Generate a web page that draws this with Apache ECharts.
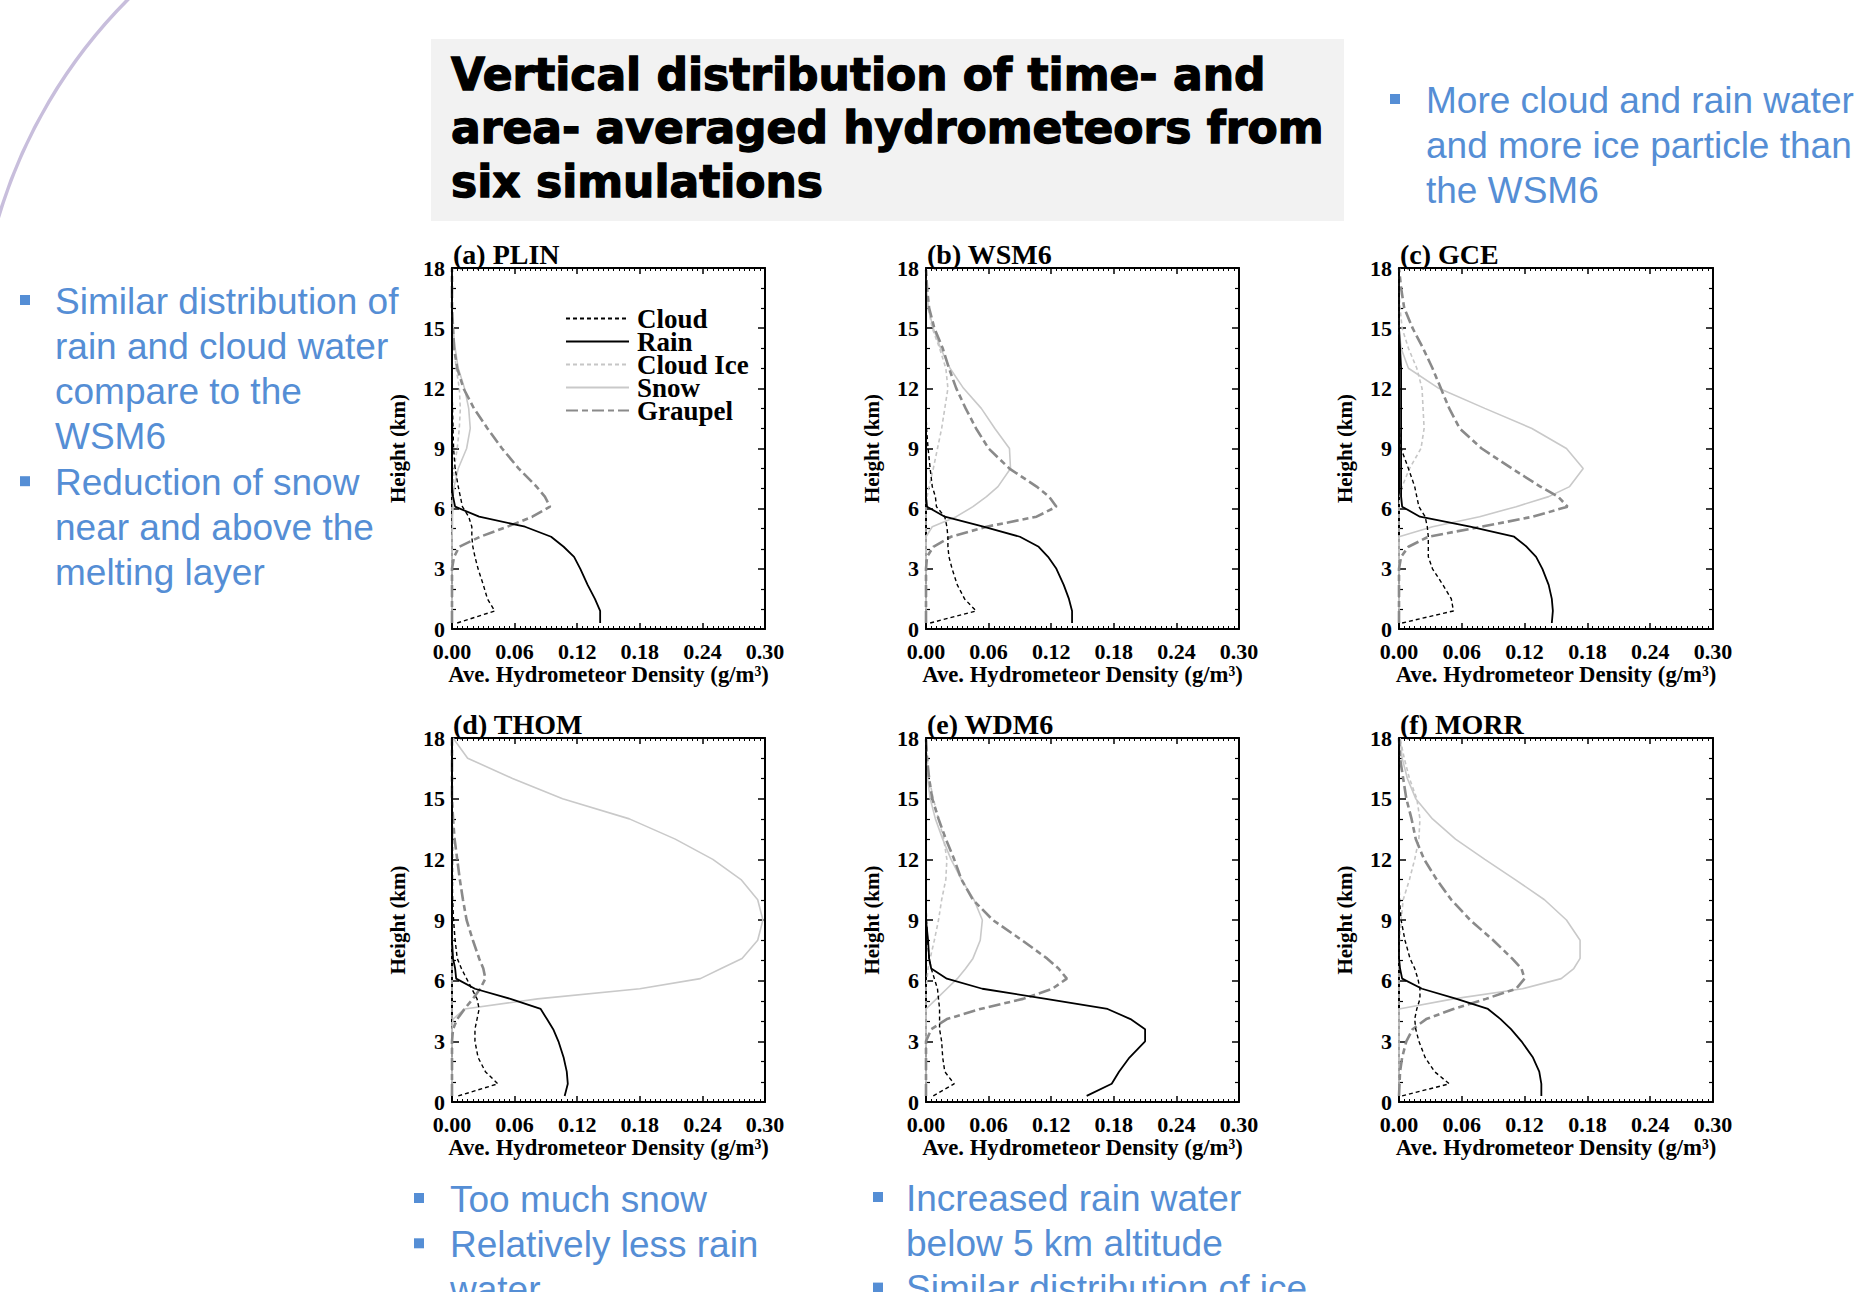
<!DOCTYPE html>
<html><head><meta charset="utf-8">
<script src="https://cdn.jsdelivr.net/npm/echarts@6/dist/echarts.min.js"></script>
<style>html,body{margin:0;padding:0;background:#fff;}#chart{width:1862px;height:1292px;}</style>
</head><body><div id="chart"></div>
<script>
// ---------------- DATA ----------------
const HEIGHTS = [0.3, 0.9, 1.5, 2.2, 3.0, 3.6, 4.1, 4.6, 5.1, 5.6, 6.1, 6.6, 7.1, 8.0, 9.0, 10.0, 11.0, 12.0, 13.0, 14.0, 15.0, 16.0, 17.0, 18.0];
const SPECIES = ['Cloud', 'Rain', 'Cloud Ice', 'Snow', 'Graupel'];
const PANEL_TITLES = ['(a) PLIN', '(b) WSM6', '(c) GCE', '(d) THOM', '(e) WDM6', '(f) MORR'];
const X_TICKS = [0, 0.06, 0.12, 0.18, 0.24, 0.30];
const Y_TICKS = [0, 3, 6, 9, 12, 15, 18];

const PLIN_CLOUD   = [0.005,0.041,0.034,0.030,0.025,0.022,0.020,0.019,0.019,0.016,0.010,0.008,0.006,0.003,0.0015,0.001,0.0005,0,0,0,0,0,0,0];
const PLIN_RAIN    = [0.142,0.142,0.137,0.130,0.123,0.117,0.107,0.095,0.070,0.026,0.003,0.001,0,0,0,0,0,0,0,0,0,0,0,0];
const PLIN_ICE     = [0,0,0,0,0,0,0,0,0,0,0,0,0.001,0.002,0.005,0.007,0.008,0.007,0.004,0.002,0.001,0,0,0];
const PLIN_SNOW    = [0,0,0,0,0,0,0,0,0.0005,0.0005,0.001,0.001,0.002,0.006,0.014,0.0175,0.016,0.012,0.006,0.003,0.001,0,0,0];
const PLIN_GRAUPEL = [0,0,0,0,0,0.002,0.007,0.027,0.053,0.077,0.094,0.089,0.081,0.064,0.048,0.034,0.021,0.011,0.005,0.002,0.001,0,0,0];

const WSM6_CLOUD   = [0.004,0.048,0.037,0.030,0.025,0.022,0.021,0.021,0.020,0.018,0.010,0.009,0.006,0.004,0.002,0.0005,0,0,0,0,0,0,0,0];
const WSM6_RAIN    = [0.140,0.140,0.137,0.132,0.125,0.117,0.108,0.090,0.055,0.018,0.001,0,0,0,0,0,0,0,0,0,0,0,0,0];
const WSM6_ICE     = [0,0,0,0,0,0,0,0,0,0,0,0.001,0.003,0.007,0.011,0.015,0.018,0.021,0.019,0.013,0.006,0.002,0.0005,0];
const WSM6_SNOW    = [0,0,0,0,0,0,0,0,0.006,0.029,0.045,0.058,0.069,0.081,0.080,0.066,0.053,0.036,0.023,0.014,0.007,0.002,0.0005,0];
const WSM6_GRAUPEL = [0,0,0,0,0,0.001,0.007,0.024,0.058,0.106,0.125,0.118,0.106,0.080,0.060,0.048,0.038,0.029,0.022,0.016,0.008,0.003,0.001,0];

const GCE_CLOUD    = [0.003,0.052,0.050,0.042,0.032,0.028,0.028,0.028,0.027,0.025,0.019,0.017,0.015,0.009,0.002,0,0,0,0,0,0,0,0,0];
const GCE_RAIN     = [0.146,0.147,0.146,0.143,0.137,0.131,0.122,0.110,0.068,0.020,0.003,0.002,0.002,0.002,0.002,0.002,0.002,0.002,0.002,0.001,0,0,0,0];
const GCE_ICE      = [0,0,0,0,0,0,0,0,0,0,0,0.001,0.003,0.010,0.021,0.024,0.023,0.022,0.017,0.009,0.003,0.001,0,0];
const GCE_SNOW     = [0,0,0,0,0,0,0,0,0.032,0.077,0.112,0.143,0.163,0.176,0.160,0.127,0.082,0.038,0.009,0.002,0,0,0,0];
const GCE_GRAUPEL  = [0,0,0,0,0,0.002,0.009,0.028,0.079,0.128,0.161,0.152,0.135,0.108,0.079,0.058,0.048,0.040,0.032,0.023,0.013,0.005,0.002,0];

const THOM_CLOUD   = [0.006,0.044,0.032,0.025,0.022,0.022,0.024,0.026,0.024,0.019,0.014,0.009,0.005,0.003,0.0015,0.0005,0,0,0,0,0,0,0,0];
const THOM_RAIN    = [0.108,0.111,0.110,0.107,0.102,0.097,0.091,0.085,0.056,0.022,0.004,0.003,0.001,0,0,0,0,0,0,0,0,0,0,0];
const THOM_ICE     = [0,0,0,0,0,0,0,0,0,0,0,0,0,0.0005,0.001,0.001,0.001,0.001,0.001,0.0005,0,0,0,0];
const THOM_SNOW    = [0,0,0,0,0,0,0.001,0.012,0.082,0.180,0.238,0.258,0.278,0.293,0.298,0.293,0.277,0.250,0.214,0.170,0.106,0.058,0.015,0.001];
const THOM_GRAUPEL = [0,0,0,0,0,0.001,0.005,0.012,0.020,0.027,0.032,0.030,0.026,0.020,0.014,0.0105,0.0075,0.005,0.0025,0.001,0,0,0,0];

const WDM6_CLOUD   = [0.007,0.027,0.018,0.016,0.015,0.013,0.013,0.013,0.012,0.011,0.008,0.005,0.003,0.0015,0.0005,0,0,0,0,0,0,0,0,0];
const WDM6_RAIN    = [0.154,0.178,0.185,0.195,0.210,0.210,0.196,0.174,0.115,0.054,0.020,0.005,0.003,0.002,0,0,0,0,0,0,0,0,0,0];
const WDM6_ICE     = [0,0,0,0,0,0,0,0,0,0,0.001,0.002,0.004,0.008,0.012,0.015,0.019,0.020,0.017,0.012,0.007,0.003,0.001,0];
const WDM6_SNOW    = [0,0,0,0,0,0,0,0,0.010,0.020,0.030,0.038,0.045,0.052,0.054,0.046,0.034,0.024,0.016,0.009,0.004,0.0015,0.0005,0];
const WDM6_GRAUPEL = [0,0,0,0,0,0.005,0.020,0.052,0.093,0.121,0.135,0.127,0.116,0.092,0.064,0.045,0.034,0.027,0.019,0.012,0.006,0.003,0.001,0];

const MORR_CLOUD   = [0.003,0.048,0.034,0.025,0.019,0.016,0.015,0.017,0.020,0.020,0.018,0.015,0.0105,0.0057,0.002,0.0005,0,0,0,0,0,0,0,0];
const MORR_RAIN    = [0.136,0.136,0.134,0.128,0.117,0.107,0.097,0.085,0.055,0.022,0.003,0.001,0,0,0,0,0,0,0,0,0,0,0,0];
const MORR_ICE     = [0,0,0,0,0,0,0,0,0,0,0,0,0,0.0005,0.002,0.004,0.010,0.015,0.019,0.020,0.017,0.010,0.005,0.001];
const MORR_SNOW    = [0,0,0,0,0,0,0,0,0.052,0.118,0.155,0.167,0.173,0.173,0.160,0.139,0.111,0.082,0.054,0.032,0.016,0.008,0.003,0.001];
const MORR_GRAUPEL = [0,0.0005,0.001,0.003,0.007,0.013,0.026,0.052,0.083,0.112,0.120,0.117,0.108,0.090,0.068,0.050,0.036,0.024,0.016,0.012,0.007,0.004,0.001,0];

const PANELS = [
  [PLIN_CLOUD, PLIN_RAIN, PLIN_ICE, PLIN_SNOW, PLIN_GRAUPEL],
  [WSM6_CLOUD, WSM6_RAIN, WSM6_ICE, WSM6_SNOW, WSM6_GRAUPEL],
  [GCE_CLOUD, GCE_RAIN, GCE_ICE, GCE_SNOW, GCE_GRAUPEL],
  [THOM_CLOUD, THOM_RAIN, THOM_ICE, THOM_SNOW, THOM_GRAUPEL],
  [WDM6_CLOUD, WDM6_RAIN, WDM6_ICE, WDM6_SNOW, WDM6_GRAUPEL],
  [MORR_CLOUD, MORR_RAIN, MORR_ICE, MORR_SNOW, MORR_GRAUPEL]
];

const SLIDE_TITLE = ['Vertical distribution of time- and', 'area- averaged hydrometeors from', 'six simulations'];
const NOTE_LEFT = [['Similar distribution of', 'rain and cloud water', 'compare to the', 'WSM6'], ['Reduction of snow', 'near and above the', 'melting layer']];
const NOTE_RIGHT = [['More cloud and rain water', 'and more ice particle than', 'the WSM6']];
const NOTE_BOTTOM1 = [['Too much snow'], ['Relatively less rain', 'water']];
const NOTE_BOTTOM2 = [['Increased rain water', 'below 5 km altitude'], ['Similar distribution of ice']];

// ---------------- LAYOUT / STYLE ----------------
const GRIDS = [
  {left: 452, top: 268, width: 313, height: 361},
  {left: 926, top: 268, width: 313, height: 361},
  {left: 1399, top: 268, width: 314, height: 361},
  {left: 452, top: 738, width: 313, height: 364},
  {left: 926, top: 738, width: 313, height: 364},
  {left: 1399, top: 738, width: 314, height: 364}
];
const SERIF = "'Liberation Serif', 'Times New Roman', serif";
const SANS = "'Liberation Sans', Arial, sans-serif";
const BLUE = '#558ED5';
const LINE_STYLES = {
  'Cloud':     {color: '#000000', width: 1.4, type: [4, 3]},
  'Rain':      {color: '#000000', width: 1.8, type: 'solid'},
  'Cloud Ice': {color: '#c6c6c6', width: 1.6, type: [4, 3]},
  'Snow':      {color: '#c9c9c9', width: 1.6, type: 'solid'},
  'Graupel':   {color: '#8a8a8a', width: 2.6, type: [12, 4, 6, 4]}
};
const DRAW_ORDER = ['Snow', 'Cloud Ice', 'Graupel', 'Cloud', 'Rain'];

const axisLine = {show: true, onZero: false, lineStyle: {color: '#000', width: 2}};
const tickLbl = {color: '#000', fontFamily: SERIF, fontWeight: 'bold', fontSize: 22};

const xAxes = [], yAxes = [], series = [], titles = [];
GRIDS.forEach((g, i) => {
  const xBase = {gridIndex: i, type: 'value', min: 0, max: 0.3, interval: 0.06,
    axisLine, splitLine: {show: false},
    axisTick: {show: true, inside: true, length: 6, lineStyle: {color: '#000', width: 1.5}},
    minorTick: {show: true, splitNumber: 12, length: 3, lineStyle: {color: '#000', width: 1}}};
  xAxes.push(Object.assign({}, xBase, {position: 'bottom',
    axisLabel: Object.assign({margin: 11, formatter: v => Number(v).toFixed(2)}, tickLbl),
    name: 'Ave. Hydrometeor Density (g/m³)', nameLocation: 'middle', nameGap: 31,
    nameTextStyle: {color: '#000', fontFamily: SERIF, fontWeight: 'bold', fontSize: 22.7}}));
  xAxes.push(Object.assign({}, xBase, {position: 'top', axisLabel: {show: false}}));
  const yBase = {gridIndex: i, type: 'value', min: 0, max: 18, interval: 3,
    axisLine, splitLine: {show: false},
    axisTick: {show: true, inside: true, length: 7, lineStyle: {color: '#000', width: 1.5}},
    minorTick: {show: true, splitNumber: 3, length: 4, lineStyle: {color: '#000', width: 1.2}}};
  yAxes.push(Object.assign({}, yBase, {position: 'left',
    axisLabel: Object.assign({margin: 7}, tickLbl),
    name: 'Height (km)', nameLocation: 'middle', nameRotate: 90, nameGap: 44,
    nameTextStyle: {color: '#000', fontFamily: SERIF, fontWeight: 'bold', fontSize: 21}}));
  yAxes.push(Object.assign({}, yBase, {position: 'right', axisLabel: {show: false}}));

  titles.push({text: PANEL_TITLES[i], left: g.left + 1, top: g.top - 28, padding: 0,
    textStyle: {color: '#000', fontFamily: SERIF, fontWeight: 'bold', fontSize: 28}});

  DRAW_ORDER.forEach(name => {
    const k = SPECIES.indexOf(name);
    const vals = PANELS[i][k];
    const st = LINE_STYLES[name];
    series.push({
      name, type: 'line', xAxisIndex: i * 2, yAxisIndex: i * 2,
      data: HEIGHTS.map((h, j) => [vals[j], h]),
      symbol: 'none', showSymbol: false, smooth: false, animation: false,
      lineStyle: {color: st.color, width: st.width, type: st.type},
      itemStyle: {color: st.color},
      z: 2
    });
  });
});

// ---------------- SLIDE DECORATION (graphic) ----------------
const graphic = [];
graphic.push({type: 'arc', shape: {cx: 495, cy: 365, r: 518, startAngle: Math.PI * 0.98, endAngle: Math.PI * 1.36, clockwise: true},
  style: {stroke: '#C8BEDC', lineWidth: 3.5, fill: null}, silent: true, z: 0});
graphic.push({type: 'rect', shape: {x: 431, y: 39, width: 913, height: 182}, style: {fill: '#F2F2F2'}, silent: true, z: 0});
const TITLE_BASELINES = [90, 143, 196.5];
SLIDE_TITLE.forEach((t, i) => graphic.push({type: 'text', x: 451, y: TITLE_BASELINES[i] - 15.5, z: 1,
  style: {text: t, fill: '#000', stroke: '#000', lineWidth: 1.3, fontFamily: "'DejaVu Sans', sans-serif", fontWeight: 'bold', fontSize: 44, align: 'left', verticalAlign: 'middle'}}));

function bulletBlock(groups, squareX, textX, firstBaseline, lineGap) {
  let b = firstBaseline;
  groups.forEach(lines => {
    graphic.push({type: 'rect', shape: {x: squareX, y: b - 19, width: 10, height: 10}, style: {fill: BLUE}, z: 1});
    lines.forEach(line => {
      graphic.push({type: 'text', x: textX, y: b - 13, z: 1,
        style: {text: line, fill: BLUE, fontFamily: SANS, fontSize: 37, align: 'left', verticalAlign: 'middle'}});
      b += lineGap;
    });
  });
}
bulletBlock(NOTE_LEFT, 20, 55, 314, 45.3);
bulletBlock(NOTE_RIGHT, 1390, 1426, 113, 45.3);
bulletBlock(NOTE_BOTTOM1, 414, 450, 1212, 45.3);
bulletBlock(NOTE_BOTTOM2, 873, 906, 1211, 45.3);

const option = {
  backgroundColor: '#ffffff',
  animation: false,
  title: titles,
  legend: {
    data: SPECIES, orient: 'vertical', left: 565, top: 305, padding: 0,
    itemWidth: 63, itemHeight: 20, itemGap: -4,
    textStyle: {color: '#000', fontFamily: SERIF, fontWeight: 'bold', fontSize: 27, padding: [0, 0, 0, 3]},
    itemStyle: {opacity: 0},
    selectedMode: false
  },
  grid: GRIDS.map(g => Object.assign({containLabel: false, show: false}, g)),
  xAxis: xAxes,
  yAxis: yAxes,
  series,
  graphic
};

const chart = echarts.init(document.getElementById('chart'), null, {renderer: 'svg', width: 1862, height: 1292});
chart.setOption(option);
</script>
</body></html>
